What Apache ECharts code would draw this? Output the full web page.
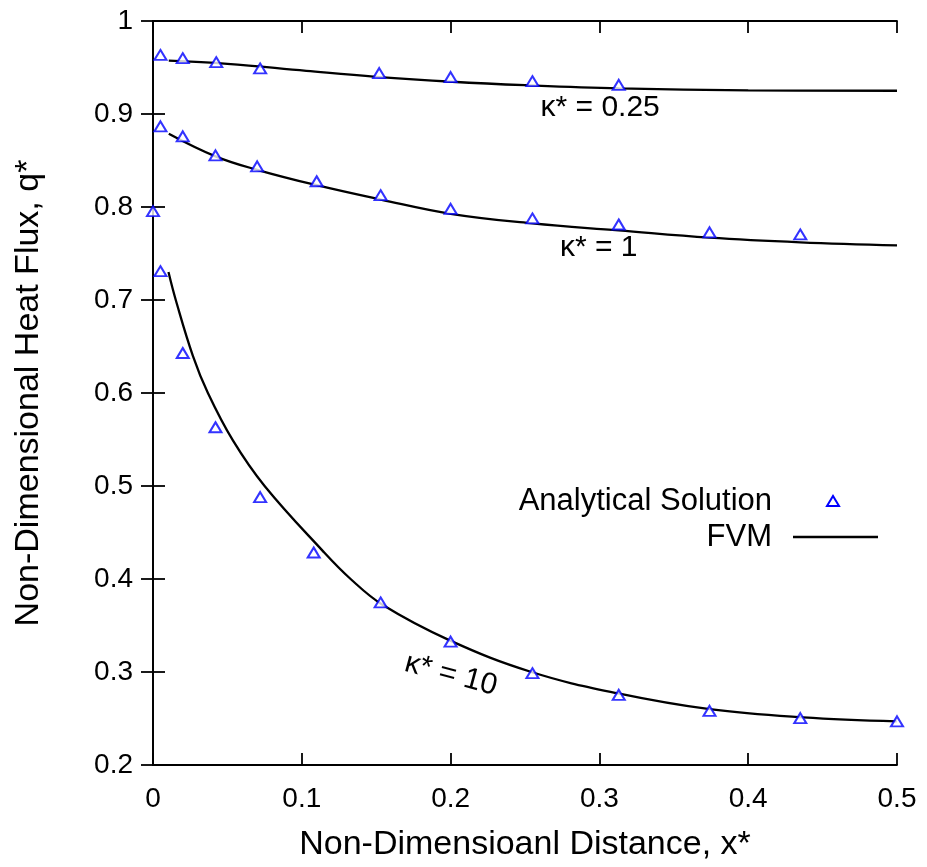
<!DOCTYPE html>
<html>
<head>
<meta charset="utf-8">
<script src="https://cdn.jsdelivr.net/npm/echarts@6/dist/echarts.min.js"></script>
<style>html,body{margin:0;padding:0;background:#fff;}#c{width:927px;height:867px;}</style>
</head>
<body>
<div id="c"></div>
<script>
// ---- data ----
var xTicks = [0, 0.1, 0.2, 0.3, 0.4, 0.5];
var yTicks = [0.2, 0.3, 0.4, 0.5, 0.6, 0.7, 0.8, 0.9, 1];

// Analytical solution (triangles)
var a025X = [0.005, 0.02, 0.0425, 0.072, 0.152, 0.2, 0.255, 0.313];
var a025Y = [0.9635, 0.960, 0.9557, 0.949, 0.944, 0.9397, 0.9353, 0.9314];
var a1X = [0, 0.005, 0.02, 0.042, 0.07, 0.11, 0.153, 0.2, 0.255, 0.313, 0.374, 0.435];
var a1Y = [0.7955, 0.8867, 0.876, 0.8556, 0.8437, 0.8277, 0.8127, 0.798, 0.7877, 0.7812, 0.7727, 0.7705];
var a10X = [0.005, 0.02, 0.042, 0.072, 0.108, 0.153, 0.2, 0.255, 0.313, 0.374, 0.435, 0.5];
var a10Y = [0.731, 0.643, 0.5632, 0.488, 0.4285, 0.3748, 0.3327, 0.2987, 0.2754, 0.2582, 0.2504, 0.2469];

// FVM (solid lines)
var f025X = [0.0106, 0.05, 0.103, 0.15, 0.201, 0.25, 0.313, 0.4, 0.5];
var f025Y = [0.9574, 0.954, 0.9464, 0.940, 0.9347, 0.931, 0.9276, 0.9255, 0.925];
var f1X = [0.0106, 0.042, 0.07, 0.11, 0.153, 0.2, 0.255, 0.313, 0.374, 0.435, 0.5];
var f1Y = [0.8788, 0.8545, 0.840, 0.8234, 0.808, 0.7927, 0.7823, 0.7748, 0.767, 0.762, 0.7587];
var f10X = [0.0104, 0.0153, 0.0268, 0.0369, 0.0537, 0.075, 0.1142, 0.1328, 0.1545, 0.1994, 0.2543, 0.3126, 0.3742, 0.437, 0.4998];
var f10Y = [0.730, 0.700, 0.640, 0.600, 0.549, 0.500, 0.430, 0.400, 0.372, 0.334, 0.300, 0.277, 0.260, 0.2512, 0.2469];

// curve labels: [text, x, y, rotation(deg)]
var curveLabels = [
  ['\u03ba* = 0.25', 0.3005, 0.9064, 0],
  ['\u03ba* = 1', 0.2995, 0.7560, 0],
  ['\u03ba* = 10', 0.2002, 0.2970, -15]
];

var legendNames = ['Analytical Solution', 'FVM'];

function zip(xs, ys) { return xs.map(function (x, i) { return [x, ys[i]]; }); }

var FONT = '"Liberation Sans", Arial, Helvetica, sans-serif';
var chart = echarts.init(document.getElementById('c'), null, { renderer: 'canvas' });

function fmt(v) { return String(+v.toFixed(2)); }

var triStyle = { color: '#ffffff', borderColor: '#0000ff', borderWidth: 2 };
function triSeries(xs, ys) {
  return { type: 'scatter', name: legendNames[0], data: zip(xs, ys), symbol: 'triangle', symbolSize: [12, 10],
    itemStyle: triStyle, z: 3, silent: true };
}
function lineSeries(xs, ys) {
  return { type: 'line', name: legendNames[1], data: zip(xs, ys), showSymbol: false, symbol: 'none',
    smooth: 0.4,
    lineStyle: { color: '#000', width: 2.3 }, z: 2, silent: true };
}

var axisCommon = {
  axisLine: { show: true, lineStyle: { color: '#000', width: 1.8 } },
  axisTick: { show: true, inside: true, length: 12, lineStyle: { color: '#000', width: 1.8 } },
  splitLine: { show: false }
};

var option = {
  backgroundColor: '#fff',
  animation: false,
  grid: { left: 153, right: 30, top: 21, bottom: 100, containLabel: false },
  xAxis: [
    Object.assign({ type: 'value', position: 'bottom', min: 0, max: 0.5, interval: 0.1,
      name: 'Non-Dimensioanl Distance, x*', nameLocation: 'middle', nameGap: 63,
      nameTextStyle: { fontFamily: FONT, fontSize: 34, color: '#000' },
      axisLabel: { margin: 20, fontFamily: FONT, fontSize: 28, color: '#000', formatter: fmt } }, axisCommon),
    Object.assign({ type: 'value', position: 'top', min: 0, max: 0.5, interval: 0.1,
      axisLabel: { show: false } }, axisCommon)
  ],
  yAxis: [
    Object.assign({ type: 'value', position: 'left', min: 0.2, max: 1, interval: 0.1,
      name: 'Non-Dimensional Heat Flux, q*', nameLocation: 'middle', nameGap: 107,
      nameTextStyle: { fontFamily: FONT, fontSize: 34, color: '#000' },
      axisLabel: { margin: 20, fontFamily: FONT, fontSize: 28, color: '#000', formatter: fmt } }, axisCommon),
    Object.assign({ type: 'value', position: 'right', min: 0.2, max: 1, interval: 0.1,
      axisLabel: { show: false } }, axisCommon)
  ],
  series: [
    lineSeries(f025X, f025Y), lineSeries(f1X, f1Y), lineSeries(f10X, f10Y),
    triSeries(a025X, a025Y), triSeries(a1X, a1Y), triSeries(a10X, a10Y)
  ]
};
chart.setOption(option);

// annotations and legend placed relative to the grid
var g = [];
curveLabels.forEach(function (c) {
  var p = chart.convertToPixel({ xAxisIndex: 0, yAxisIndex: 0 }, [c[1], c[2]]);
  g.push({ type: 'text', x: p[0], y: p[1], rotation: c[3] * Math.PI / 180,
    style: { text: c[0], fill: '#000', font: '30px ' + FONT, textAlign: 'center', textVerticalAlign: 'middle' }, z: 10 });
});
// legend (key)
var lx = 772, ly1 = 501, ly2 = 537;
g.push({ type: 'text', x: lx, y: ly1, style: { text: legendNames[0], fill: '#000', font: '31px ' + FONT, textAlign: 'right', textVerticalAlign: 'middle' } });
g.push({ type: 'text', x: lx, y: ly2, style: { text: legendNames[1], fill: '#000', font: '31px ' + FONT, textAlign: 'right', textVerticalAlign: 'middle' } });
g.push({ type: 'polygon', shape: { points: [[827, 506], [839, 506], [833, 496]] }, style: { fill: '#fff', stroke: '#0000ff', lineWidth: 2 } });
g.push({ type: 'line', shape: { x1: 793, y1: ly2, x2: 878, y2: ly2 }, style: { stroke: '#000', lineWidth: 2.3 } });
chart.setOption({ graphic: g });
</script>
</body>
</html>
